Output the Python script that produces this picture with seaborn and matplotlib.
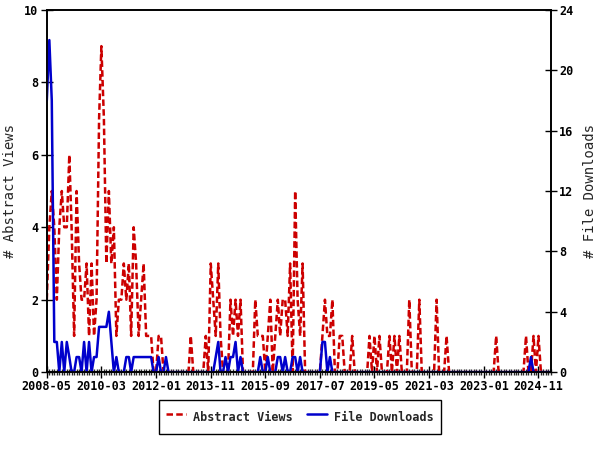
import pandas as pd
import numpy as np
import matplotlib
matplotlib.use("Agg")
import matplotlib.pyplot as plt
import seaborn as sns

sns.set_style("ticks")
plt.rcParams["font.family"] = ["DejaVu Sans Mono"]
plt.rcParams["font.weight"] = "bold"

# monthly counts, 2008-05 .. 2025-04
abstract_views = [
    2, 4, 5, 4, 2, 4, 5, 4, 4, 6, 4, 1, 5, 3, 2, 2, 3, 1, 3, 1,
    2, 7, 9, 7, 3, 5, 3, 4, 1, 2, 2, 3, 2, 3, 1, 4, 3, 1, 2, 3,
    1, 1, 1, 0, 0, 1, 1, 0, 0, 0, 0, 0, 0, 0, 0, 0, 0, 0, 1, 0,
    0, 0, 0, 0, 1, 0, 3, 2, 1, 3, 1, 0, 0, 0, 2, 1, 2, 1, 2, 0,
    0, 0, 0, 0, 2, 1, 1, 1, 0, 1, 2, 0, 1, 2, 1, 2, 2, 1, 3, 0,
    5, 2, 1, 3, 0, 0, 0, 0, 0, 0, 0, 1, 2, 1, 1, 2, 0, 0, 1, 1,
    0, 0, 0, 1, 0, 0, 0, 0, 0, 0, 1, 0, 1, 0, 1, 0, 0, 0, 1, 0,
    1, 0, 1, 0, 0, 0, 2, 0, 0, 0, 2, 0, 0, 0, 0, 0, 0, 2, 0, 0,
    0, 1, 0, 0, 0, 0, 0, 0, 0, 0, 0, 0, 0, 0, 0, 0, 0, 0, 0, 0,
    0, 1, 0, 0, 0, 0, 0, 0, 0, 0, 0, 0, 0, 1, 0, 0, 1, 0, 1, 0,
    0, 0, 0, 0,
]
file_downloads = [
    18, 22, 18, 2, 2, 0, 2, 0, 2, 1, 0, 0, 1, 1, 0, 2, 0, 2, 0, 1,
    1, 3, 3, 3, 3, 4, 2, 0, 1, 0, 0, 0, 1, 1, 0, 1, 1, 1, 1, 1,
    1, 1, 1, 0, 0, 1, 0, 0, 1, 0, 0, 0, 0, 0, 0, 0, 0, 0, 0, 0,
    0, 0, 0, 0, 0, 0, 0, 0, 1, 2, 0, 0, 1, 0, 1, 1, 2, 0, 1, 0,
    0, 0, 0, 0, 0, 0, 1, 0, 0, 1, 0, 0, 0, 1, 1, 0, 1, 0, 0, 1,
    1, 0, 1, 0, 0, 0, 0, 0, 0, 0, 0, 2, 2, 0, 1, 0, 0, 0, 0, 0,
    0, 0, 0, 0, 0, 0, 0, 0, 0, 0, 0, 0, 0, 0, 0, 0, 0, 0, 0, 0,
    0, 0, 0, 0, 0, 0, 0, 0, 0, 0, 0, 0, 0, 0, 0, 0, 0, 0, 0, 0,
    0, 0, 0, 0, 0, 0, 0, 0, 0, 0, 0, 0, 0, 0, 0, 0, 0, 0, 0, 0,
    0, 0, 0, 0, 0, 0, 0, 0, 0, 0, 0, 0, 0, 0, 0, 1, 0, 0, 0, 0,
    0, 0, 0, 0,
]
months = pd.date_range("2008-05-01", periods=len(abstract_views), freq="MS")

df = pd.DataFrame({
    "month": months,
    "views": abstract_views,
    "downloads": file_downloads,
})

fig, ax = plt.subplots(figsize=(6, 4.5), dpi=100)
fig.subplots_adjust(left=0.078, right=0.918, bottom=0.173, top=0.978)

sns.lineplot(data=df, x="month", y="views", ax=ax, color="#cc0000",
             linewidth=1.8, linestyle=(0, (2.6, 1.3)), legend=False)
ax2 = ax.twinx()
sns.lineplot(data=df, x="month", y="downloads", ax=ax2, color="#0000cc",
             linewidth=1.8, legend=False)

ax.set_xlim(months[0], months[-1])
ax.set_ylim(0, 10)
ax2.set_ylim(0, 24)
ax.set_yticks(np.arange(0, 11, 2))
ax2.set_yticks(np.arange(0, 25, 4))

major = months[::22]
ax.set_xticks(major)
ax.set_xticklabels([d.strftime("%Y-%m") for d in major])
ax.set_xticks(months, minor=True)

ax.tick_params(axis="both", which="major", direction="inout", length=8,
               width=1, labelsize=8.5, colors="black", pad=2)
ax.tick_params(axis="x", which="minor", direction="inout", length=5, width=1)
ax2.tick_params(axis="y", direction="inout", length=8, width=1,
                labelsize=8.5, colors="black", pad=2)

ax.set_xlabel("")
ax.set_ylabel("# Abstract Views", fontsize=10, labelpad=5)
ax2.set_ylabel("# File Downloads", fontsize=10, labelpad=7)

for a in (ax, ax2):
    for s in a.spines.values():
        s.set_color("black")
        s.set_linewidth(1.2)

handles = [ax.get_lines()[0], ax2.get_lines()[0]]
fig.legend(handles, ["Abstract Views", "File Downloads"], loc="center",
           bbox_to_anchor=(0.5, 0.073), ncol=2, frameon=True, fancybox=False,
           edgecolor="black", framealpha=1, fontsize=8.5, handlelength=1.7,
           handleheight=2.2, handletextpad=0.6, borderpad=0.6,
           columnspacing=1.2)

fig.savefig("out.png", dpi=100)
